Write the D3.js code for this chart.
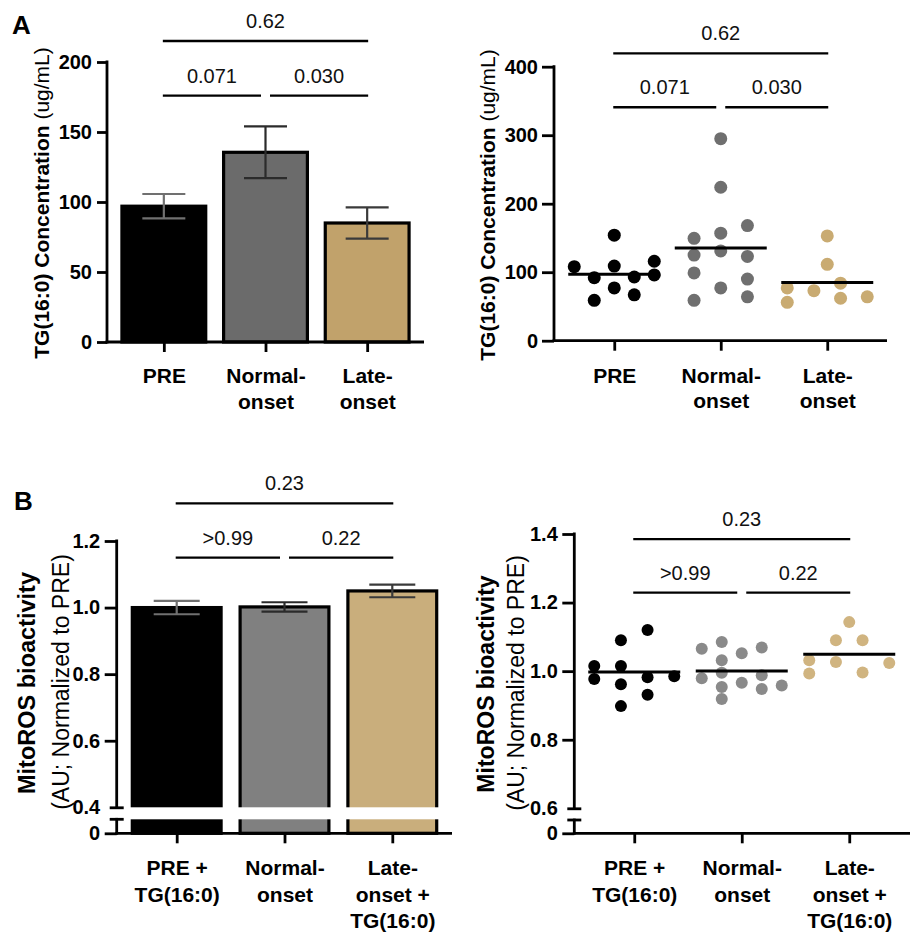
<!DOCTYPE html>
<html><head><meta charset="utf-8">
<script src="https://cdn.jsdelivr.net/npm/d3@7"></script>
<style>
body{margin:0;background:#fff;}
svg{font-family:"Liberation Sans",Arial,Helvetica,sans-serif;}
.axis path,.axis line{stroke:#000;stroke-width:2.8;}
.axis text{font-size:20px;font-weight:bold;fill:#000;font-family:"Liberation Sans",Arial,sans-serif;}
.xlab text{font-size:21px;}
</style></head><body>
<svg id="chart" width="916" height="944"></svg>
<script>
// ---------------- DATA ----------------
const groups = ["PRE", "Normal-onset", "Late-onset"];
const xLabelsA = [["PRE"], ["Normal-", "onset"], ["Late-", "onset"]];
const xLabelsB = [["PRE +", "TG(16:0)"], ["Normal-", "onset"], ["Late-", "onset +", "TG(16:0)"]];

// Panel A (bars): TG(16:0) concentration, mean ± SEM
const tgMean = [97, 135.5, 85];
const tgSem = [8.7, 18.5, 11.2];
// Panel A (dots): [jitter -1..1, value]
const tgPre = [[-1,108],[-0.5,92],[-0.5,59],[0,154],[0,109],[0,77],[0.5,93],[0.5,67],[1,116],[1,96]];
const tgNormal = [[-0.667,149.5],[-0.667,125],[-0.667,99],[-0.667,59],[0,295],[0,224],[0,157],[0,131],[0,77],[0.667,168],[0.667,123],[0.667,90],[0.667,64]];
const tgLate = [[-1,77],[-1,56],[-0.333,73],[0,153],[0,111.5],[0.333,84],[0.333,62],[1,64]];

// Panel B (bars): MitoROS bioactivity, mean ± SEM
const rosMean = [1.0, 1.002, 1.05];
const rosSem = [0.02, 0.014, 0.019];
// Panel B (dots)
const rosPre = [[-1,1.015],[-1,0.977],[-0.333,1.090],[-0.333,1.015],[-0.333,0.962],[-0.333,0.898],[0.333,1.120],[0.333,0.982],[0.333,0.931],[1,0.985]];
const rosNormal = [[-1,1.065],[-1,0.979],[-0.5,1.085],[-0.5,1.032],[-0.5,0.995],[-0.5,0.954],[-0.5,0.919],[0,1.052],[0,0.966],[0.5,1.069],[0.5,0.988],[0.5,0.948],[1,0.958]];
const rosLate = [[-1,1.032],[-1,0.993],[-0.333,1.090],[-0.333,1.027],[0,1.143],[0.333,1.090],[0.333,0.996],[1,1.024]];

// Significance brackets: pairs and p-values
const bracketPairs = [[0,1],[1,2],[0,2]];
const pValuesA = ["0.071", "0.030", "0.62"];
const pValuesB = [">0.99", "0.22", "0.23"];
const bracketLevelsABar = [176, 176, 215];
const bracketLevelsADot = [340.7, 340.7, 419.5];
const bracketLevelsBBar = [1.15, 1.15, 1.313];
const bracketLevelsBDot = [1.229, 1.229, 1.385];

// Tick values
const tgTicksBar = [0, 50, 100, 150, 200];
const tgTicksDot = [0, 100, 200, 300, 400];
const rosTicksBar = [0, 0.4, 0.6, 0.8, 1.0, 1.2];
const rosTicksDot = [0, 0.6, 0.8, 1.0, 1.2, 1.4];

// Colours
const barColorsA = ["#000000", "#6b6b6b", "#c1a26b"];
const dotColorsA = ["#000000", "#6f6f6f", "#c9ab72"];
const barColorsB = ["#000000", "#808080", "#c9ae7c"];
const dotColorsB = ["#000000", "#8a8a8a", "#d0b480"];
const errColors = ["#707070", "#2b2b2b", "#3a3a3a"];

// ---------------- DRAW ----------------
const svg = d3.select("#chart");

function drawPanel(cfg) {
  const g = svg.append("g");
  const x = d3.scalePoint().domain(groups).range(cfg.band).padding(0.5);
  const y = d3.scaleLinear().domain(cfg.yDomain).range(cfg.yRange);
  const y0 = y(0);

  // bars
  if (cfg.means) {
    const sw = 3.2;
    g.selectAll("rect.bar").data(cfg.means).join("rect")
      .attr("class", "bar")
      .attr("x", (d, i) => x(groups[i]) - cfg.barW / 2 + sw / 2)
      .attr("width", cfg.barW - sw)
      .attr("y", d => y(d))
      .attr("height", d => y0 - y(d))
      .attr("fill", (d, i) => cfg.colors[i])
      .attr("stroke", "#000").attr("stroke-width", sw);
    // error bars
    cfg.means.forEach((m, i) => {
      const cx = x(groups[i]), s = cfg.sems[i];
      const eg = g.append("g").attr("stroke", errColors[i]).attr("stroke-width", 2.2);
      eg.append("line").attr("x1", cx).attr("x2", cx).attr("y1", y(m - s)).attr("y2", y(m + s));
      [m - s, m + s].forEach(v => eg.append("line")
        .attr("x1", cx - cfg.capW / 2).attr("x2", cx + cfg.capW / 2)
        .attr("y1", y(v)).attr("y2", y(v)));
    });
  }

  // dots
  if (cfg.points) {
    const jit = d3.scaleLinear().domain([-1, 1]).range([-40, 40]);
    cfg.points.forEach((pts, i) => {
      const cx = x(groups[i]);
      g.append("g").selectAll("circle").data(pts).join("circle")
        .attr("cx", d => cx + jit(d[0]))
        .attr("cy", d => y(d[1]))
        .attr("r", cfg.r)
        .attr("fill", cfg.colors[i]);
      const mean = d3.mean(pts, d => d[1]);
      g.append("line").attr("x1", cx - 46).attr("x2", cx + 46)
        .attr("y1", y(mean)).attr("y2", y(mean))
        .attr("stroke", "#000").attr("stroke-width", 3);
    });
  }

  // break gap (white) over bars
  if (cfg.brk) {
    g.append("rect").attr("x", cfg.axisX + 3).attr("width", cfg.xEnd - cfg.axisX)
      .attr("y", y(cfg.brk[1])).attr("height", y(cfg.brk[0]) - y(cfg.brk[1]))
      .attr("fill", "#fff");
  }

  // y axis
  const ya = g.append("g").attr("class", "axis")
    .attr("transform", `translate(${cfg.axisX},0)`)
    .call(d3.axisLeft(y).tickValues(cfg.ticks).tickSize(cfg.tickSize).tickPadding(cfg.tickPad)
      .tickFormat(cfg.fmt));
  ya.select(".domain").remove();
  const segs = cfg.brk ? [[0, cfg.brk[0]], [cfg.brk[1], cfg.yDomain[cfg.yDomain.length - 1]]]
                       : [[0, cfg.yDomain[cfg.yDomain.length - 1]]];
  segs.forEach(s => ya.append("line").attr("x1", 0).attr("x2", 0)
    .attr("y1", y(s[0]) + 1.4).attr("y2", y(s[1]) - 1.4));
  if (cfg.brk) {
    ya.selectAll(".tick").filter(d => d === cfg.brk[1]).select("line").attr("x1", 7).attr("x2", -7);
    ya.append("line").attr("x1", -7).attr("x2", 7).attr("y1", y(cfg.brk[0])).attr("y2", y(cfg.brk[0]));
  }

  // x axis
  g.append("line").attr("x1", cfg.axisX - 1.4).attr("x2", cfg.xEnd)
    .attr("y1", y0).attr("y2", y0).attr("stroke", "#000").attr("stroke-width", 2.8);
  const xa = g.append("g").attr("class", "axis xlab")
    .attr("transform", `translate(0,${y0})`)
    .call(d3.axisBottom(x).tickSize(10).tickFormat(""));
  xa.select(".domain").remove();
  xa.selectAll(".tick text").each(function (d, i) {
    const t = d3.select(this).attr("y", null).attr("dy", null);
    cfg.xLabels[i].forEach((s, k) => t.append("tspan").attr("x", 0)
      .attr("y", cfg.labelY + k * cfg.lineH).text(s));
  });

  // brackets
  bracketPairs.forEach((p, k) => {
    const [a, b] = p;
    const x1 = x(groups[a]) + (a === 1 ? 4.5 : -1);
    const x2 = x(groups[b]) + (b === 1 ? -4.5 : 1);
    const ly = y(cfg.brackets[k]);
    g.append("line").attr("x1", x1).attr("x2", x2).attr("y1", ly).attr("y2", ly)
      .attr("stroke", "#000").attr("stroke-width", 2.4);
    g.append("text").attr("x", (x1 + x2) / 2).attr("y", ly - 13)
      .attr("text-anchor", "middle").attr("font-size", 20).attr("fill", "#111")
      .text(cfg.pvals[k]);
  });

  // y title
  cfg.titles.forEach(tl => {
    const t = g.append("text")
      .attr("transform", `translate(${tl.x},${tl.y}) rotate(-90)`)
      .attr("text-anchor", "middle").attr("font-size", tl.size).attr("fill", "#000");
    tl.parts.forEach(p => t.append("tspan").attr("font-weight", p.b ? "bold" : "normal").text(p.t));
  });
}

const fmtInt = d3.format("d");
const fmtRos = d => d === 0 ? "0" : d3.format(".1f")(d);

drawPanel({
  band: [113, 418], axisX: 107, xEnd: 424, yDomain: [0, 200], yRange: [342, 62],
  ticks: tgTicksBar, tickSize: 10, tickPad: 5, fmt: fmtInt,
  means: tgMean, sems: tgSem, colors: barColorsA, barW: 87, capW: 43,
  xLabels: xLabelsA, labelY: 41, lineH: 25.5,
  brackets: bracketLevelsABar, pvals: pValuesA,
  titles: [{x: 48.5, y: 203, size: 21, parts: [{t: "TG(16:0) Concentration", b: true}, {t: " (ug/mL)", b: false}]}]
});

drawPanel({
  band: [561, 880.5], axisX: 554, xEnd: 887, yDomain: [0, 400], yRange: [340.7, 66.7],
  ticks: tgTicksDot, tickSize: 12, tickPad: 4, fmt: fmtInt,
  points: [tgPre, tgNormal, tgLate], colors: dotColorsA, r: 6.5,
  xLabels: xLabelsA, labelY: 42, lineH: 25.5,
  brackets: bracketLevelsADot, pvals: pValuesA,
  titles: [{x: 495, y: 205, size: 21, parts: [{t: "TG(16:0) Concentration", b: true}, {t: " (ug/mL)", b: false}]}]
});

drawPanel({
  band: [122.8, 446.2], axisX: 116.7, xEnd: 452, yDomain: [0, 0.1, 0.4, 1.2], yRange: [833.3, 819.3, 807.3, 541],
  brk: [0.1, 0.4],
  ticks: rosTicksBar, tickSize: 12, tickPad: 4.5, fmt: fmtRos,
  means: rosMean, sems: rosSem, colors: barColorsB, barW: 92, capW: 46,
  xLabels: xLabelsB, labelY: 42, lineH: 26.5,
  brackets: bracketLevelsBBar, pvals: pValuesB,
  titles: [
    {x: 35, y: 683, size: 23.5, parts: [{t: "MitoROS bioactivity", b: true}]},
    {x: 69, y: 682, size: 23, parts: [{t: "(AU; Normalized to PRE)", b: false}]}
  ]
});

drawPanel({
  band: [580.5, 903], axisX: 574.3, xEnd: 910, yDomain: [0, 0.1, 0.6, 1.4], yRange: [833.3, 820, 808.3, 534],
  brk: [0.1, 0.6],
  ticks: rosTicksDot, tickSize: 12, tickPad: 4.5, fmt: fmtRos,
  points: [rosPre, rosNormal, rosLate], colors: dotColorsB, r: 6,
  xLabels: xLabelsB, labelY: 42, lineH: 26.5,
  brackets: bracketLevelsBDot, pvals: pValuesB,
  titles: [
    {x: 493.5, y: 684, size: 23, parts: [{t: "MitoROS bioactivity", b: true}]},
    {x: 524, y: 683, size: 23, parts: [{t: "(AU; Normalized to PRE)", b: false}]}
  ]
});

// panel letters
svg.append("text").attr("x", 12).attr("y", 34).attr("font-size", 26).attr("font-weight", "bold").text("A");
svg.append("text").attr("x", 14).attr("y", 510).attr("font-size", 26).attr("font-weight", "bold").text("B");
</script>
</body></html>
